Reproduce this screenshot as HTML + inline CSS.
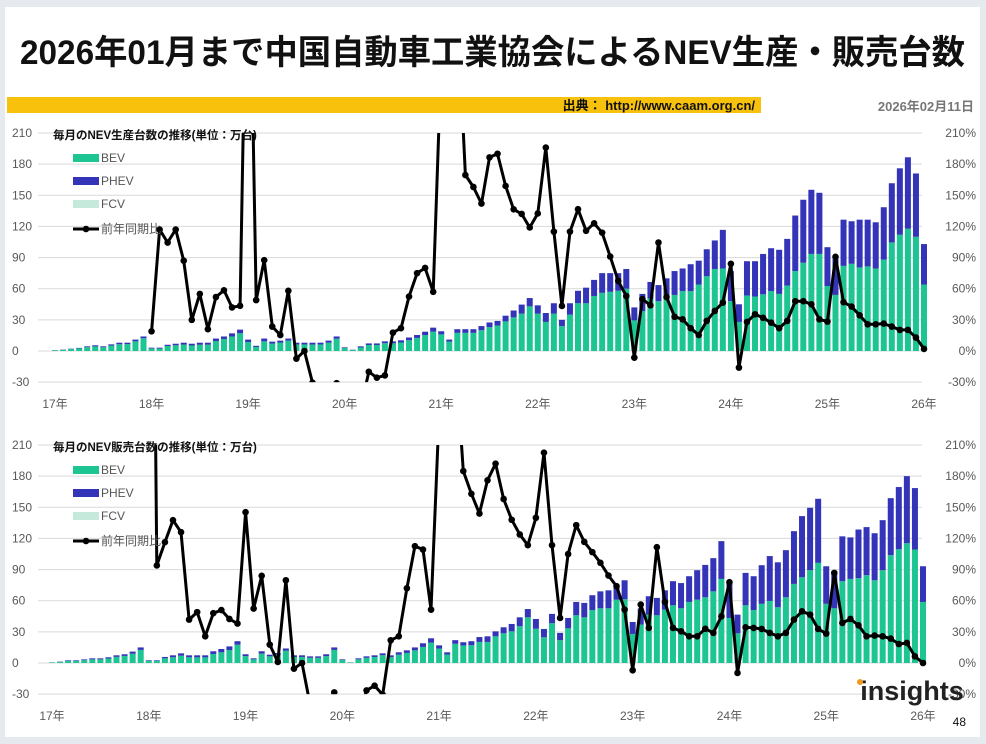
<!DOCTYPE html>
<html><head><meta charset="utf-8"><style>
html,body{margin:0;padding:0;background:#e6e9ed;}
svg{display:block;font-family:"Liberation Sans","Noto Sans CJK JP",sans-serif;}
</style></head><body>
<svg id="c" width="986" height="744" viewBox="0 0 986 744">
<rect x="5" y="7" width="975" height="730" fill="#fff"/>
<text x="20" y="64" textLength="945" lengthAdjust="spacingAndGlyphs" font-size="34" font-weight="bold" fill="#111">2026年01月まで中国自動車工業協会によるNEV生産・販売台数</text>
<rect x="7" y="97" width="754" height="16" fill="#f8c20c"/>
<text x="755" y="110" text-anchor="end" font-size="13" font-weight="bold" fill="#111">出典： http://www.caam.org.cn/</text>
<text x="974" y="111" text-anchor="end" font-size="13" font-weight="bold" fill="#777">2026年02月11日</text>
<g id="charts"></g>
<text x="912" y="700" text-anchor="middle" font-size="27" font-weight="bold" fill="#222">insights</text>
<circle cx="860" cy="682" r="3" fill="#f39a1e"/>
<text x="966" y="726" text-anchor="end" font-size="12" fill="#111">48</text>
</svg>
<script>
const years = ["17年","18年","19年","20年","21年","22年","23年","24年","25年","26年"];
const leftTicks = [-30,0,30,60,90,120,150,180,210];
const rightTicks = ["-30%","0%","30%","60%","90%","120%","150%","180%","210%"];
const prodBev = [0.6,1.0,1.8,2.5,3.7,4.4,3.6,5.2,6.5,6.6,9.3,12.3, 2.5,2.4,4.8,5.5,6.2,5.3,6.0,6.1,9.6,11.6,14.0,17.1, 8.6,3.9,9.3,7.2,8.1,10.0,6.3,6.3,6.2,6.3,8.1,11.8, 2.8,0.9,3.4,5.8,5.8,7.5,7.4,8.2,10.4,12.6,15.3,18.6, 16,9,17.5,17.5,17.5,20,23,24.5,28.5,32.4,36,43, 36,28,36,24,35,46,46,53,56,57,58,60, 29.5,38.5,50.6,48,54,54,57.7,57.7,64,72,79,79.5, 48,28,53.5,52.5,54.6,57.7,55,63,77,85,93.5,93.5, 62.6,54,82,84,80.5,81.5,79.5,88,104.6,112,117.8,110, 64];
const prodPhev = [0.2,0.3,0.4,0.5,0.8,1.1,0.9,1.2,1.5,1.4,1.7,1.7, 0.7,0.8,1.2,1.5,1.8,1.7,2.0,1.9,2.4,2.4,3.0,3.5, 2.4,1.1,2.7,1.8,1.9,2.0,1.7,1.7,1.8,1.7,1.9,2.2, 0.7,0.3,1.1,1.5,1.5,1.8,1.9,2.1,2.6,2.8,3.3,3.9, 3,2,3.5,3.5,3.5,4,4.5,4.5,5.5,6.6,8.7,8, 8,8.6,10,6,11,12,15,15.5,19,18,17,19, 12.5,16.5,15.9,15.5,16,23,21.8,25.9,23,26,27.5,37.2, 29,17,33,34,38.9,41.3,42.5,45,53.5,60.7,61.8,58.9, 37.4,35,44.5,41,46,45,44.5,50.5,57,64,68.8,61, 39];
const prodYoy = [null,null,null,null,null,null,null,null,null,null,null,null, 19,117,104.5,117,87,30,55,21,52,58.5,42,43.5, 480,49,87.5,23.5,15.4,58,-7.4,0,-30.5,-42,-45,-31, -50,-80,-55,-20,-25.7,-23.5,17.7,22,52.4,75,80,57, 280,700,330,169.5,158,142,186.5,190,159,136.5,132,119, 132.5,196,115,43.4,115,136.6,115.8,123,114,91,67.5,53, -6.4,50,44,104.5,52,33,30.5,22,15.4,29,38.6,46.6, 84,-16,28,35.4,32,27.3,22,29,48,48,45,30.5, 28.3,90.7,47,42.8,34.4,25.7,25.7,26.4,23.5,20.3,20.3,12.9, 2];
const salesBev = [0.5,1.0,2.0,2.0,2.7,3.5,3.5,4.3,5.9,6.8,8.9,12.6, 2.0,2.0,4.5,5.5,7.0,5.5,5.4,5.4,8.7,10.3,12.5,17.6, 6.6,3.5,9.0,6.4,7.8,11.8,5.8,5.8,5.0,5.0,6.6,12.6, 2.8,0.5,3.5,5.0,5.8,7.5,5.7,8.0,9.7,12.2,15.5,19.6, 13.9,8.2,18.5,16.9,17.1,20.3,20.3,25.7,28.6,30.5,35.4,44, 33,24.8,38.3,22,33.4,46,44,51,52.7,52.7,61,61.4, 28,37,46.6,46,51.4,55.6,52.7,58.8,61,63.3,69,81, 43.4,28.6,55.6,51,57,59.8,53.7,63.3,76.2,82.6,89.4,96.5, 57,52.7,78.8,81,81.7,84.6,79.7,89.4,103.9,109.6,115.4,109.3, 58.8];
const salesPhev = [0.1,0.3,0.6,0.6,0.8,1.0,1.0,1.2,1.5,1.6,2.1,2.4, 0.6,0.6,1.3,1.9,2.3,1.9,2.0,2.0,2.6,3.2,3.5,3.4, 1.8,1.0,2.3,1.6,1.8,2.2,1.6,1.6,1.4,1.4,1.8,2.4, 0.7,0.1,1.0,1.4,1.6,1.8,1.7,2.3,2.5,2.8,3.5,4.2, 3.1,2.1,3.5,3.1,3.9,4.7,5.4,4.8,5.8,7.1,8.6,8, 9.4,8,9,7,10,12.8,13.9,14.3,16.3,17.3,13.3,18.3, 11.5,15.4,17.7,16.7,18.6,23.2,24.3,24.8,28.4,31.2,32,36.4, 34.4,18,31.2,32.6,37.2,43.2,43.3,45.4,50.8,58.9,60.1,61.7, 36.2,35.7,43.2,40,46.9,46.3,45.3,48.2,54.9,59.9,64.6,59.2, 34.4];
const salesYoy = [null,null,null,null,null,null,null,null,null,null,null,null, 900,94,116.4,137.6,126,41.8,49,25.7,48,51,42.4,38, 145.3,52.4,84,17.7,1,79.7,-5.5,0,-40,-45,-38,-28.3, -55,-80,-55,-26.4,-21.9,-30.5,21.9,25.7,72,112.5,109.3,51.4, 240,600,300,184.9,163,144,176,192,158,138,123.8,113.5, 139.9,202.6,113.5,43.4,105,132.8,116.7,106.8,96.5,84.2,74,51.4, -7,56.3,33.8,111.6,58.8,33.8,30.5,25.7,25.7,33,29,45, 77.8,-9.6,34.4,33.8,32.8,29,25.7,29,41.8,49.8,46.6,32.8, 28.3,86.8,38.6,42.4,36.3,25.7,26.4,25.7,23.5,18.3,19.3,6.4, 0];

const NS="http://www.w3.org/2000/svg";
const root=document.getElementById('charts');
function mk(tag,attrs,parent){const e=document.createElementNS(NS,tag);for(const k in attrs)e.setAttribute(k,attrs[k]);parent.appendChild(e);return e;}

function drawChart(prefix, title, top, x0, x1, bev, phev, yoy){
  const g=mk('g',{},root);
  
  
  const zeroY=top+218, pxPer=218/210;
  const yS=v=>zeroY-v*pxPer;
  const n=bev.length, step=(x1-x0)/(n-1);
  const xS=i=>x0+i*step;
  leftTicks.forEach((t,k)=>{
    const gl=mk('line',{x1:38,x2:922,y1:yS(t),y2:yS(t),stroke:'#d9d9d9','stroke-width':1},g);
    
    
    const lt=mk('text',{x:12,y:yS(t)+4,'font-size':12,fill:'#595959'},g);
    lt.textContent=t;
    
    
    const rt=mk('text',{x:976,y:yS(t)+4,'font-size':12,fill:'#595959','text-anchor':'end'},g);
    rt.textContent=rightTicks[k];
    
    
  });
  years.forEach((yl,k)=>{
    const t=mk('text',{x:xS(k*12),y:zeroY+57,'font-size':12,fill:'#595959','text-anchor':'middle'},g);
    t.textContent=yl;
    
    
  });
  for(let i=0;i<n;i++){
    const x=xS(i)-3;
    const b=mk('rect',{x:x,y:yS(bev[i]),width:6,height:bev[i]*pxPer,fill:'#1cc592'},g);
    
    
    const p=mk('rect',{x:x,y:yS(bev[i]+phev[i]),width:6,height:phev[i]*pxPer,fill:'#3434b8'},g);
    
    
  }
  const cid=prefix+'-clip';
  const defs=mk('defs',{},g);
  const cp=mk('clipPath',{id:cid},defs);
  mk('rect',{x:30,y:yS(210),width:900,height:yS(-30)-yS(210)},cp);
  const lg=mk('g',{'clip-path':'url(#'+cid+')'},g);
  let d='';
  for(let i=0;i<n;i++){ if(yoy[i]===null) continue; d+=(d?'L':'M')+xS(i).toFixed(1)+','+yS(yoy[i]).toFixed(1); }
  const path=mk('path',{d:d,fill:'none',stroke:'#000','stroke-width':3,'stroke-linejoin':'round'},lg);
  
  
  for(let i=0;i<n;i++){ if(yoy[i]===null) continue;
    const c=mk('circle',{cx:xS(i),cy:yS(yoy[i]),r:3.3,fill:'#000'},lg);
    
    
  }
  const tt=mk('text',{x:53,y:top+6,'font-size':11.5,'font-weight':'bold',fill:'#111'},g);
  tt.textContent=title;
  
  
  const items=[['BEV','#1cc592'],['PHEV','#3434b8'],['FCV','#c5eadb']];
  items.forEach((it,k)=>{
    const yy=top+26+k*23;
    const r=mk('rect',{x:73,y:yy-5,width:26,height:8,fill:it[1]},g);
    
    
    const t=mk('text',{x:101,y:yy+3,'font-size':12,fill:'#555'},g);
    t.textContent=it[0];
    
    
  });
  const ly=top+96;
  const ll=mk('line',{x1:73,x2:99,y1:ly,y2:ly,stroke:'#000','stroke-width':3},g);
  
  
  const lc=mk('circle',{cx:86,cy:ly,r:3.3,fill:'#000'},g);
  
  
  const lt=mk('text',{x:101,y:ly+4,'font-size':12,fill:'#555'},g);
  lt.textContent='前年同期比';
  
  
}
drawChart('production','毎月のNEV生産台数の推移(単位：万台)',133,55,924,prodBev,prodPhev,prodYoy);
drawChart('sales','毎月のNEV販売台数の推移(単位：万台)',445,52,923,salesBev,salesPhev,salesYoy);
</script>
</body></html>
